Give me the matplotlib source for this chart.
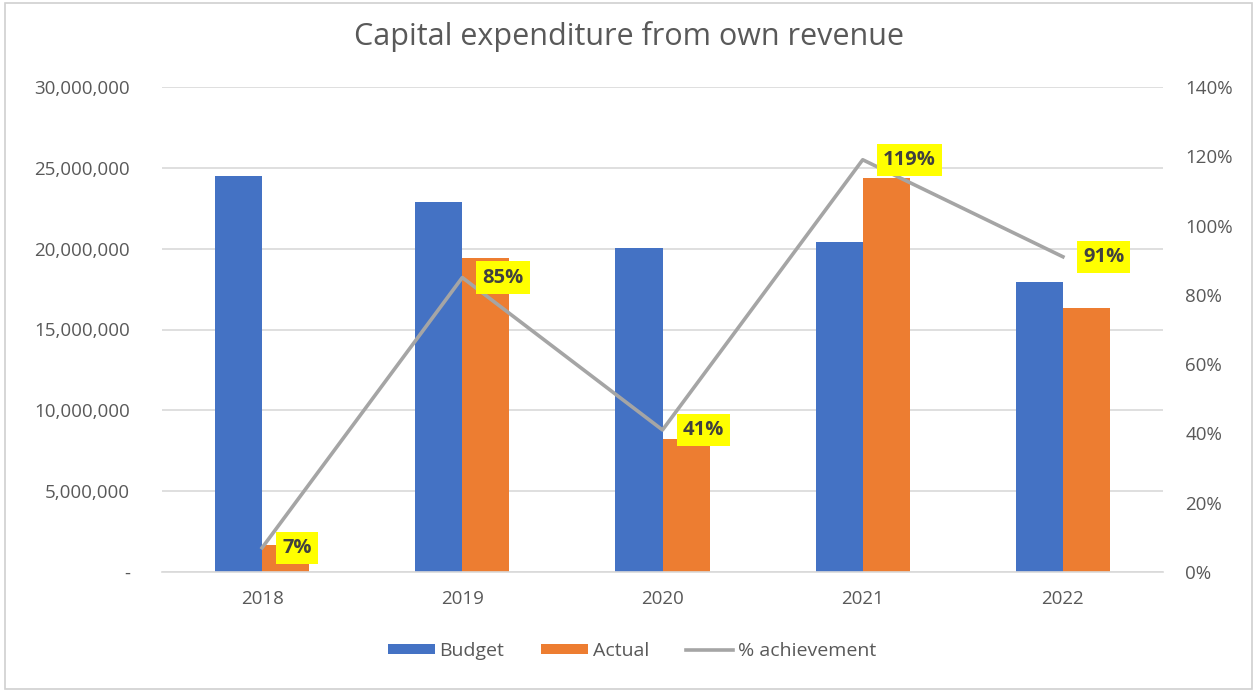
import matplotlib
matplotlib.use("Agg")
import matplotlib.pyplot as plt
import numpy as np
from matplotlib.ticker import FuncFormatter, MultipleLocator
from matplotlib.patches import Rectangle

years = ["2018", "2019", "2020", "2021", "2022"]
budget = [24_500_000, 22_900_000, 20_050_000, 20_400_000, 17_950_000]
actual = [1_670_000, 19_400_000, 8_230_000, 24_400_000, 16_300_000]
achievement = [0.07, 0.85, 0.41, 1.19, 0.91]
pct_labels = ["7%", "85%", "41%", "119%", "91%"]

BLUE = "#4472C4"
ORANGE = "#ED7D31"
GRAY = "#A5A5A5"
TXT = "#595959"
GRID = "#D9D9D9"

plt.rcParams["font.family"] = ["Open Sans", "DejaVu Sans"]

fig = plt.figure(figsize=(12.57, 6.92), dpi=100)
ax = fig.add_axes([162 / 1257, 1 - 572 / 692, (1163 - 162) / 1257, (572 - 87) / 692])

x = np.arange(len(years))
w = 0.235
ax.bar(x - w / 2, budget, width=w, color=BLUE, label="Budget", zorder=2)
ax.bar(x + w / 2, actual, width=w, color=ORANGE, label="Actual", zorder=2)

ax.set_xlim(-0.5, len(years) - 0.5)
ax.set_ylim(0, 30_000_000)
ax.yaxis.set_major_locator(MultipleLocator(5_000_000))
ax.yaxis.set_major_formatter(FuncFormatter(lambda v, p: "-" if v == 0 else f"{v:,.0f}"))
ax.set_xticks(x)
ax.set_xticklabels(years)
ax.grid(axis="y", color=GRID, linewidth=1.2, zorder=0)
ax.set_axisbelow(True)
for s in ["top", "right", "left"]:
    ax.spines[s].set_visible(False)
ax.spines["bottom"].set_color(GRID)
ax.spines["bottom"].set_linewidth(1.2)
ax.tick_params(axis="y", length=0, pad=23, labelsize=13.5, labelcolor=TXT)
ax.tick_params(axis="x", length=0, pad=13, labelsize=13.5, labelcolor=TXT)

ax2 = ax.twinx()
ax2.set_ylim(0, 1.4)
ax2.yaxis.set_major_locator(MultipleLocator(0.2))
ax2.yaxis.set_major_formatter(FuncFormatter(lambda v, p: f"{v * 100:.0f}%"))
for s in ax2.spines.values():
    s.set_visible(False)
ax2.tick_params(axis="y", length=0, pad=16, labelsize=13.5, labelcolor=TXT)
ax2.plot(x, achievement, color=GRAY, linewidth=2.6, label="% achievement", zorder=3)

for xi, yi, lab in zip(x, achievement, pct_labels):
    ax2.annotate(lab, (xi, yi), xytext=(14.5, 0), textcoords="offset points",
                 ha="left", va="center", fontsize=14.5, fontweight="bold", color="#404040",
                 bbox=dict(boxstyle="square,pad=0.3", facecolor="#FFFF00", edgecolor="none"),
                 zorder=5)

fig.text(0.5, 1 - 37 / 692, "Capital expenditure from own revenue", ha="center", va="center",
         fontsize=22, color=TXT)

h1, l1 = ax.get_legend_handles_labels()
h2, l2 = ax2.get_legend_handles_labels()
fig.legend(h1 + h2, l1 + l2, loc="center", bbox_to_anchor=(632 / 1257, 1 - 651 / 692), ncol=3,
           frameon=False, fontsize=14, labelcolor=TXT, handlelength=2.4, handleheight=0.42,
           handletextpad=0.25, columnspacing=1.9)

fig.patches.append(Rectangle((0.004, 0.005), 0.992, 0.99, transform=fig.transFigure,
                             fill=False, edgecolor="#D0D0D0", linewidth=1.2))

fig.savefig("out.png", dpi=100, facecolor="white")
